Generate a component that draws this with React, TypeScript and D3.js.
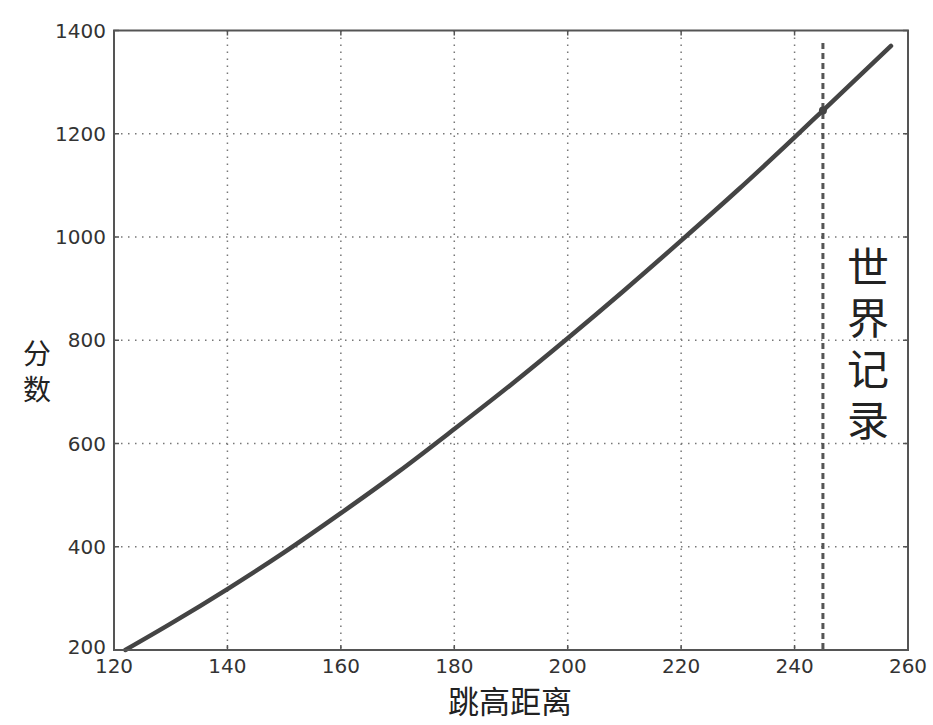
import React from "react";
import * as d3 from "d3";

const jumpHeights = [122, 130, 140, 150, 160, 170, 180, 190, 200, 210, 220, 230, 240, 245, 250, 257];
const scores = [200, 251, 318, 389, 465, 544, 628, 714, 804, 897, 993, 1091, 1193, 1245, 1297, 1370];
const xTicks = [120, 140, 160, 180, 200, 220, 240, 260];
const yTicks = [200, 400, 600, 800, 1000, 1200, 1400];
const recordHeight = [245];
const recordScore = [1245];
const xLabel = "跳高距离";
const yLabel = "分数";
const recordLabel = "世界记录";

const W = 933, H = 725;
const L = 114, R = 908, T = 30.5, B = 650;

export default function App() {
  const x = d3.scaleLinear().domain([120, 260]).range([L, R]);
  const y = d3.scaleLinear().domain([200, 1400]).range([B, T]);
  const pts = jumpHeights.map((h, i) => [h, scores[i]] as [number, number]);
  const line = d3.line<[number, number]>().x(d => x(d[0])).y(d => y(d[1])).curve(d3.curveMonotoneX);
  const tickFont = "'DejaVu Sans', sans-serif";
  const cjk = "'Noto Sans CJK SC', sans-serif";
  return (
    <svg width={W} height={H} style={{ position: "absolute", left: 0, top: 0, background: "#fff" }}>
      <rect x={0} y={0} width={W} height={H} fill="#fff" />
      {/* grid */}
      <g stroke="#777" strokeWidth={1.5} strokeDasharray="1.5,5.5">
        {xTicks.slice(1, -1).map(t => (
          <line key={"gx" + t} x1={x(t)} x2={x(t)} y1={T} y2={B} />
        ))}
        {yTicks.slice(1, -1).map(t => (
          <line key={"gy" + t} x1={L} x2={R} y1={y(t)} y2={y(t)} />
        ))}
      </g>
      {/* ticks */}
      <g stroke="#555" strokeWidth={1.5}>
        {xTicks.map(t => (
          <g key={"tx" + t}>
            <line x1={x(t)} x2={x(t)} y1={B} y2={B - 5} />
            <line x1={x(t)} x2={x(t)} y1={T} y2={T + 5} />
          </g>
        ))}
        {yTicks.map(t => (
          <g key={"ty" + t}>
            <line x1={L} x2={L + 5} y1={y(t)} y2={y(t)} />
            <line x1={R} x2={R - 5} y1={y(t)} y2={y(t)} />
          </g>
        ))}
      </g>
      {/* record line */}
      {recordHeight.map((h, i) => (
        <g key={"rec" + i}>
          <line x1={x(h)} x2={x(h)} y1={43} y2={B} stroke="#555" strokeWidth={3} strokeDasharray="6,4" />
        </g>
      ))}
      {/* curve */}
      <path d={line(pts) || ""} fill="none" stroke="#444" strokeWidth={4.5} strokeLinecap="round" />
      {recordHeight.map((h, i) => (
        <circle key={"dot" + i} cx={x(h)} cy={y(recordScore[i])} r={4} fill="#444" />
      ))}
      {/* frame */}
      <rect x={L} y={T} width={R - L} height={B - T} fill="none" stroke="#555" strokeWidth={2} />
      {/* tick labels */}
      <g fontFamily={tickFont} fontSize={20} fill="#333">
        {xTicks.map(t => (
          <text key={"lx" + t} x={x(t)} y={673} textAnchor="middle">{t}</text>
        ))}
        {yTicks.map(t => (
          <text key={"ly" + t} x={106} y={y(t) + (t === 200 ? 4 : 7)} textAnchor="end">{t}</text>
        ))}
      </g>
      {/* axis labels */}
      <text x={510} y={713} textAnchor="middle" fontFamily={cjk} fontSize={31} fill="#222">{xLabel}</text>
      <text x={37} y={339} writingMode="vertical-rl" fontFamily={cjk} fontSize={28} letterSpacing={8} fill="#222">{yLabel}</text>
      <text x={868} y={246} writingMode="vertical-rl" fontFamily={cjk} fontSize={42} letterSpacing={9} fill="#222">{recordLabel}</text>
    </svg>
  );
}
